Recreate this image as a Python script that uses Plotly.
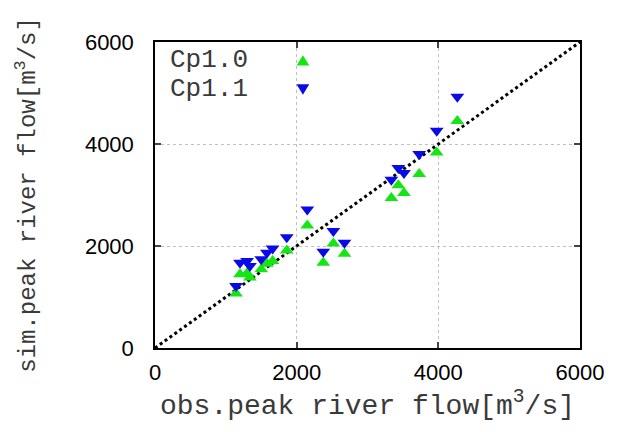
import plotly.graph_objects as go

obs_flow = [1144, 1200, 1300, 1340, 1500, 1580, 1660, 1860, 2150, 2376, 2518, 2675,
            3337, 3435, 3515, 3730, 3977, 4268]
sim_cp10 = [1068, 1445, 1465, 1380, 1543, 1654, 1706, 1914, 2402, 1673, 2051, 1849,
            2943, 3190, 3040, 3411, 3834, 4453]
sim_cp11 = [1217, 1673, 1706, 1608, 1738, 1868, 1953, 2174, 2715, 1888, 2292, 2064,
            3301, 3528, 3431, 3802, 4258, 4928]
series_names = ["Cp1.0", "Cp1.1"]
diag = [0, 6000]
tick_vals = [0, 2000, 4000, 6000]

GREEN = "#14e614"
BLUE = "#0a0ae6"
mono = "Liberation Mono"
sans = "Liberation Sans"

fig = go.Figure()
fig.add_trace(go.Scatter(x=diag, y=diag, mode="lines",
                         line=dict(color="black", width=3, dash="dot"),
                         showlegend=False, hoverinfo="skip"))
fig.add_trace(go.Scatter(x=obs_flow, y=sim_cp10, mode="markers", name=series_names[0],
                         marker=dict(symbol="triangle-up", size=12, color=GREEN,
                                     line=dict(width=0))))
fig.add_trace(go.Scatter(x=obs_flow, y=sim_cp11, mode="markers", name=series_names[1],
                         marker=dict(symbol="triangle-down", size=12, color=BLUE,
                                     line=dict(width=0))))

axis_common = dict(
    range=[0, 6000], tickvals=tick_vals, showline=True, mirror="ticks",
    linecolor="black", linewidth=1.5, ticks="inside", ticklen=6, tickwidth=1.5,
    tickcolor="#444", showgrid=True, gridcolor="#c0c0c0", griddash="dot",
    gridwidth=1, zeroline=False, automargin=False,
    tickfont=dict(family=sans, size=22, color="black"),
)

fig.update_xaxes(**axis_common,
                 title=dict(text="obs.peak river flow[m<sup>3</sup>/s]",
                            font=dict(family=mono, size=28, color="#3a3a3a"), standoff=10),
                 ticklabelstandoff=4)
fig.update_yaxes(**axis_common,
                 title=dict(text="sim.peak river flow[m<sup>3</sup>/s]",
                            font=dict(family=mono, size=24, color="#3a3a3a"), standoff=42),
                 ticklabelstandoff=15)

# legend drawn gnuplot-style: text left, symbol right
annotations = []
shapes = []
leg_y = [0.94, 0.845]
colors = [GREEN, BLUE]
for i, name in enumerate(series_names):
    annotations.append(dict(xref="paper", yref="paper", x=0.03, y=leg_y[i],
                            text=name, showarrow=False, xanchor="left", yanchor="middle",
                            font=dict(family=mono, size=26, color="#3a3a3a")))
    cx = 0.348
    hw, hh = 0.015, 0.017
    yc = leg_y[i]
    if i == 0:
        path = f"M {cx-hw},{yc-hh} L {cx+hw},{yc-hh} L {cx},{yc+hh} Z"
    else:
        path = f"M {cx-hw},{yc+hh} L {cx+hw},{yc+hh} L {cx},{yc-hh} Z"
    shapes.append(dict(type="path", xref="paper", yref="paper", path=path,
                       fillcolor=colors[i], line=dict(width=0)))

fig.update_layout(
    width=620, height=432,
    margin=dict(l=147, r=48, t=34, b=92),
    plot_bgcolor="white", paper_bgcolor="white",
    showlegend=False,
    annotations=annotations, shapes=shapes,
)

fig.write_html("out.html")
